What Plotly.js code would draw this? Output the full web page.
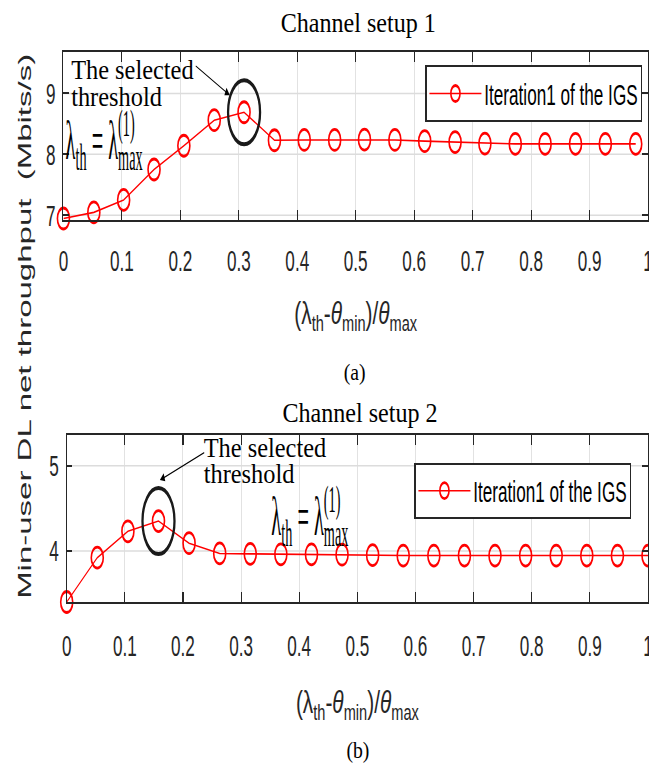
<!DOCTYPE html>
<html>
<head>
<meta charset="utf-8">
<script src="https://cdn.plot.ly/plotly-3.0.1.min.js"></script>
<style>
html,body{margin:0;padding:0;background:#fff;overflow:hidden;width:649px;height:766px;}
#wrap{width:649px;height:766px;overflow:hidden;position:relative;background:#fff;}
#plot{width:1136px;height:766px;transform-origin:0 0;}
</style>
</head>
<body>
<div id="wrap"><div id="plot"></div></div>
<script>
// ---------------- data ----------------
const xTop = [0, 0.052, 0.103, 0.155, 0.206, 0.258, 0.309, 0.361, 0.412, 0.464,
              0.515, 0.567, 0.618, 0.670, 0.721, 0.773, 0.824, 0.876, 0.927, 0.979];
const yTop = [6.945, 7.045, 7.25, 7.75, 8.14, 8.56, 8.69, 8.23, 8.235, 8.235,
              8.24, 8.235, 8.215, 8.2, 8.175, 8.17, 8.17, 8.17, 8.17, 8.17];
const xBot = [0, 0.0526, 0.1053, 0.1579, 0.2105, 0.2632, 0.3158, 0.3684, 0.4211, 0.4737,
              0.5263, 0.5789, 0.6316, 0.6842, 0.7368, 0.7895, 0.8421, 0.8947, 0.9474, 1];
const yBot = [3.40, 3.92, 4.23, 4.35, 4.09, 3.97, 3.965, 3.96, 3.96, 3.955,
              3.95, 3.945, 3.945, 3.945, 3.945, 3.945, 3.945, 3.945, 3.945, 3.945];
const xTickVals = [0, 0.1, 0.2, 0.3, 0.4, 0.5, 0.6, 0.7, 0.8, 0.9, 1];
const xTickText = ['0', '0.1', '0.2', '0.3', '0.4', '0.5', '0.6', '0.7', '0.8', '0.9', '1'];
const yTickTop = [7, 8, 9];
const yTickBot = [4, 5];
const seriesName = 'Iteration1 of the IGS';
const panelTitles = ['Channel setup 1', 'Channel setup 2'];
const panelLabels = ['(a)', '(b)'];
const yTitle = 'Min-user DL net throughput\u00a0 (Mbits/s)';
const xTitle = '(\u03bb<sub>th</sub>-<i>\u03b8</i><sub>min</sub>)/<i>\u03b8</i><sub>max</sub>';
const noteText = 'The selected<br>threshold';
const lambdaText = '\u03bb<sub>th</sub> = \u03bb<sup>(1)</sup><sub>max</sub>';

// ---------------- geometry helpers ----------------
const C = 1.75;                       // horizontal squeeze of the whole figure
const W = 1136, H = 766, ML = 111, MR = 2, MT = 52, MB = 164;
const PW = W - ML - MR, PH = H - MT - MB;
const px = xo => (xo * C - ML) / PW;  // picture x -> paper
const py = yo => (H - MB - yo) / PH;  // picture y -> paper

const SERIF = 'Liberation Serif, Times New Roman, serif';
const SANS = 'Liberation Sans, Arial, sans-serif';
const RED = '#ff0000';
const INK = '#262626';

const iTop = yTop.indexOf(Math.max(...yTop));
const iBot = yBot.indexOf(Math.max(...yBot));

function trace(x, y, xa, ya, lg) {
  return {
    x: x, y: y, xaxis: xa, yaxis: ya, type: 'scatter', mode: 'lines+markers',
    name: seriesName, legend: lg, cliponaxis: false,
    line: {color: RED, width: 1.6},
    marker: {symbol: 'circle-open', size: 21, color: RED, line: {width: 2.8, color: RED}}
  };
}
const data = [trace(xTop, yTop, 'x', 'y', 'legend'), trace(xBot, yBot, 'x2', 'y2', 'legend2')];

const axBase = {
  showline: true, linecolor: INK, linewidth: 2, mirror: 'allticks',
  ticks: 'inside', ticklen: 10, tickwidth: 2, tickcolor: INK,
  showgrid: true, zeroline: false, fixedrange: true,
  tickfont: {family: SANS, size: 30, color: INK}
};
const xGrid = {gridcolor: '#e2e2e2', gridwidth: 1.75, ticklabeloverflow: 'allow'};
const yGrid = {gridcolor: '#dcdcdc', gridwidth: 1.5};

const annotations = [];
const fx = [];   // post-render tweaks per annotation
function addAnn(o, f) { annotations.push(Object.assign({showarrow: false, xref: 'paper', yref: 'paper'}, o)); fx.push(f || null); }

// panel titles and labels
addAnn({text: panelTitles[0], x: px(358), y: py(23), xanchor: 'center', yanchor: 'middle', font: {family: SERIF, size: 27, color: '#000'}}, {s: 1.56});
addAnn({text: panelTitles[1], x: px(360), y: py(413), xanchor: 'center', yanchor: 'middle', font: {family: SERIF, size: 27, color: '#000'}}, {s: 1.56});
addAnn({text: panelLabels[0], x: px(355), y: py(372), xanchor: 'center', yanchor: 'middle', font: {family: SERIF, size: 23, color: '#000'}}, {s: 1.5});
addAnn({text: panelLabels[1], x: px(358), y: py(750), xanchor: 'center', yanchor: 'middle', font: {family: SERIF, size: 23, color: '#000'}}, {s: 1.5});
// y title
addAnn({text: yTitle, x: px(24), y: py(327), xanchor: 'center', yanchor: 'middle', textangle: -90, font: {family: SANS, size: 33, color: INK}});
// "The selected threshold" notes
addAnn({text: noteText, align: 'left', x: px(132.5), y: py(53), xanchor: 'center', yanchor: 'top', font: {family: SERIF, size: 27, color: '#000'}}, {s: 1.58, pitch: 1.0});
addAnn({text: noteText, align: 'left', x: px(265), y: py(431), xanchor: 'center', yanchor: 'top', font: {family: SERIF, size: 27, color: '#000'}}, {s: 1.58, pitch: 0.95});
// lambda notes
addAnn({text: lambdaText, x: px(104), y: py(140), xanchor: 'center', yanchor: 'middle', font: {family: SERIF, size: 54, color: '#000'}}, {s: 0.66, stack: true});
addAnn({text: lambdaText, x: px(309.5), y: py(516), xanchor: 'center', yanchor: 'middle', font: {family: SERIF, size: 54, color: '#000'}}, {s: 0.66, stack: true});
// arrows pointing at the selected thresholds
addAnn({text: '', xref: 'x', yref: 'y', x: xTop[iTop], y: yTop[iTop], xshift: -25, yshift: 17,
        showarrow: true, ax: -61, ay: -30, arrowhead: 2, arrowsize: 1.3, arrowwidth: 1.3, arrowcolor: '#000'});
addAnn({text: '', xref: 'x2', yref: 'y2', x: xBot[iBot], y: yBot[iBot], xshift: 2.5, yshift: 41,
        showarrow: true, ax: 79, ay: -28, arrowhead: 2, arrowsize: 1.3, arrowwidth: 1.3, arrowcolor: '#000'});

const shapes = [
  {type: 'circle', xref: 'x', yref: 'y', xsizemode: 'pixel', ysizemode: 'pixel',
   xanchor: xTop[iTop], yanchor: yTop[iTop], x0: -28, x1: 28, y0: -32, y1: 32,
   line: {color: '#1a1a1a', width: 4}},
  {type: 'circle', xref: 'x2', yref: 'y2', xsizemode: 'pixel', ysizemode: 'pixel',
   xanchor: xBot[iBot], yanchor: yBot[iBot], x0: -28, x1: 28, y0: -33, y1: 33,
   line: {color: '#1a1a1a', width: 4}}
];

const legBase = {bgcolor: '#ffffff', bordercolor: INK, borderwidth: 2,
  font: {family: SANS, size: 30, color: '#000'}, itemwidth: 91, xanchor: 'right', yanchor: 'top'};
const legendHeights = [55, 54];   // box heights in picture pixels

const layout = {
  width: W, height: H,
  margin: {l: ML, r: MR, t: MT, b: MB, pad: 0},
  paper_bgcolor: '#ffffff', plot_bgcolor: '#ffffff',
  showlegend: true,
  xaxis: Object.assign({}, axBase, xGrid, {domain: [0, 1], range: [0, 1], anchor: 'y',
    tickvals: xTickVals, ticktext: xTickText, ticklabelstandoff: 13,
    title: {text: xTitle, font: {family: SANS, size: 32, color: INK}, standoff: 26}}),
  yaxis: Object.assign({}, axBase, yGrid, {domain: [py(220), 1], range: [6.92, 9.68], anchor: 'x',
    tickvals: yTickTop, ticklabelstandoff: 6}),
  xaxis2: Object.assign({}, axBase, xGrid, {domain: [px(66.7), 1], range: [0, 1], anchor: 'y2',
    tickvals: xTickVals, ticktext: xTickText, ticklabelstandoff: 16,
    title: {text: xTitle, font: {family: SANS, size: 32, color: INK}, standoff: 30}}),
  yaxis2: Object.assign({}, axBase, yGrid, {domain: [0, py(435)], range: [3.4, 5.36], anchor: 'x2',
    tickvals: yTickBot, ticklabelstandoff: 6}),
  legend: Object.assign({}, legBase, {x: px(642), y: py(65)}),
  legend2: Object.assign({}, legBase, {x: px(631), y: py(462.7)}),
  annotations: annotations,
  shapes: shapes
};

const NS = 'http://www.w3.org/2000/svg';
function squeezeEl(el, s, anchor) {
  if (!el || !el.parentNode) return;
  const g = document.createElementNS(NS, 'g');
  el.parentNode.insertBefore(g, el);
  g.appendChild(el);
  const r = el.getBoundingClientRect();
  const m = g.getScreenCTM().inverse();
  const sx = anchor === 'left' ? r.left : r.left + r.width / 2;
  const p = new DOMPoint(sx, r.top + r.height / 2).matrixTransform(m);
  g.setAttribute('transform', 'translate(' + p.x + ',0) scale(' + s + ',1) translate(' + (-p.x) + ',0)');
}

Plotly.newPlot('plot', data, layout, {staticPlot: true, displayModeBar: false}).then(function (gd) {
  fx.forEach(function (f, i) {
    if (!f) return;
    const el = gd.querySelector('.annotation[data-index="' + i + '"] text.annotation-text');
    if (!el) return;
    if (f.pitch) {
      el.querySelectorAll('tspan.line').forEach(function (t) {
        const dy = t.getAttribute('dy');
        if (dy && parseFloat(dy) !== 0) t.setAttribute('dy', (parseFloat(dy) * f.pitch / 1.3) + 'em');
      });
    }
    if (f.stack) {
      // put the superscript "(1)" directly above the subscript "max"
      const ts = Array.from(el.querySelectorAll('tspan'));
      const sup = ts.find(function (t) { return t.textContent === '(1)'; });
      const sub = ts.find(function (t) { return t.textContent === 'max'; });
      if (sup && sub) sub.setAttribute('dx', -sup.getComputedTextLength());
    }
    squeezeEl(el, f.s, 'center');
  });
  gd.querySelectorAll('text.xtitle, text.x2title').forEach(function (el) { squeezeEl(el, 1.14, 'center'); });
  // taller legend boxes, as in the picture
  gd.querySelectorAll('g.legend').forEach(function (lg, k) {
    const bg = lg.querySelector('rect.bg');
    if (!bg) return;
    const h = parseFloat(bg.getAttribute('height'));
    const target = legendHeights[k] || h;
    const extra = target - h;
    if (extra <= 0) return;
    bg.setAttribute('height', target);
    const sb = lg.querySelector('g.scrollbox');
    if (sb) {
      sb.removeAttribute('clip-path');
      sb.setAttribute('transform', 'translate(0,' + (extra / 2) + ') ' + (sb.getAttribute('transform') || ''));
    }
  });
  gd.style.transform = 'scaleX(' + (1 / C) + ')';
});
</script>
</body>
</html>
